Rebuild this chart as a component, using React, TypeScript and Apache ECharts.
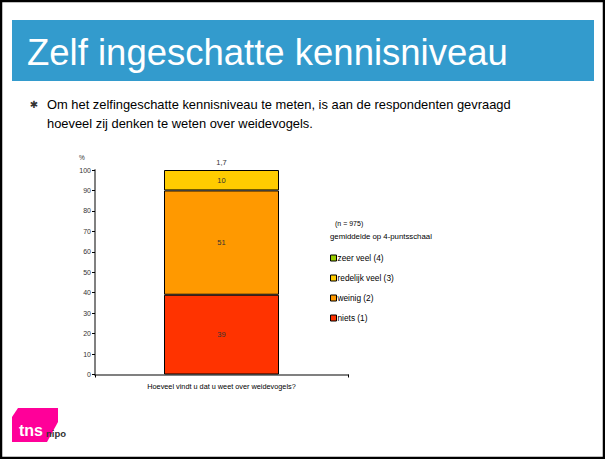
import React, { useEffect, useRef } from "react";
import * as echarts from "echarts";

const categories = ["Hoeveel vindt u dat u weet over weidevogels?"];
const seriesNames = ["niets (1)", "weinig (2)", "redelijk veel (3)", "zeer veel (4)"];
const niets = [39];
const weinig = [51];
const redelijkVeel = [10];
const zeerVeel = [1.7];
const legendOrder = ["zeer veel (4)", "redelijk veel (3)", "weinig (2)", "niets (1)"];
const colors: Record<string, string> = {
  "niets (1)": "#FF3300",
  "weinig (2)": "#FF9900",
  "redelijk veel (3)": "#FFCC00",
  "zeer veel (4)": "#99CC00",
};

const FONT = "Liberation Sans, Arial, sans-serif";

const fmt = (v: number) => String(v).replace(".", ",");

export default function App() {
  const ref = useRef<HTMLDivElement>(null);
  useEffect(() => {
    if (!ref.current) return;
    const chart = echarts.init(ref.current, undefined, { renderer: "svg" });
    const values = [niets, weinig, redelijkVeel, zeerVeel];
    const series: any[] = seriesNames.map((name, i) => {
      const isTop = i === 3;
      return {
        name,
        type: "bar",
        stack: "total",
        barWidth: 115,
        clip: false,
        data: values[i],
        itemStyle: isTop
          ? { color: "rgba(0,0,0,0)", borderWidth: 0 }
          : { color: colors[name], borderColor: "#000", borderWidth: 1 },
        label: {
          show: true,
          position: isTop ? "top" : "inside",
          distance: 0,
          fontSize: 7.5,
          fontFamily: FONT,
          color: "#333",
          formatter: (p: any) => fmt(p.value),
        },
      };
    });

    chart.setOption({
      animation: false,
      backgroundColor: "#fff",
      textStyle: { fontFamily: FONT },
      grid: { left: 95, right: 257, top: 170, bottom: 84.5, containLabel: false },
      xAxis: {
        type: "category",
        data: categories,
        axisLine: { lineStyle: { color: "#808080", width: 2 } },
        axisTick: { show: true, length: 3, lineStyle: { color: "#000" } },
        axisLabel: { fontSize: 7.3, color: "#000", margin: 8, fontFamily: FONT },
      },
      yAxis: {
        type: "value",
        min: 0,
        max: 100,
        interval: 10,
        axisLine: { show: true, lineStyle: { color: "#808080", width: 2 } },
        axisTick: { show: true, length: 3, lineStyle: { color: "#000" } },
        axisLabel: { fontSize: 7, color: "#333", margin: 4, fontFamily: FONT },
        splitLine: { show: false },
      },
      legend: {
        orient: "vertical",
        left: 325,
        top: 248,
        itemWidth: 6,
        itemHeight: 6,
        itemGap: 10,
        icon: "rect",
        textStyle: {
          fontSize: 8.3,
          color: "#000",
          lineHeight: 10,
          fontFamily: FONT,
          padding: [0, 0, 0, -4],
        },
        data: legendOrder.map((n) => ({
          name: n,
          itemStyle: { color: colors[n], borderColor: "#000", borderWidth: 1, opacity: 1 },
        })),
      },
      graphic: [
        {
          type: "rect",
          shape: { x: 1, y: 1, width: 603, height: 457 },
          style: { fill: "none", stroke: "#000", lineWidth: 2.5 },
          silent: true,
        },
        {
          type: "rect",
          shape: { x: 12, y: 20, width: 582, height: 61 },
          style: { fill: "#339BCD" },
          silent: true,
        },
        {
          type: "text",
          x: 27,
          y: 52,
          style: {
            text: "Zelf ingeschatte kennisniveau",
            fill: "#fff",
            font: `36.5px ${FONT}`,
            textVerticalAlign: "middle",
          },
          silent: true,
        },
        {
          type: "text",
          x: 34,
          y: 104,
          style: {
            text: "✱",
            fill: "#333",
            font: "10px DejaVu Sans",
            textAlign: "center",
            textVerticalAlign: "middle",
          },
          silent: true,
        },
        {
          type: "text",
          x: 47,
          y: 104,
          style: {
            text: "Om het zelfingeschatte kennisniveau te meten, is aan de respondenten gevraagd",
            fill: "#000",
            font: `12.9px ${FONT}`,
            textVerticalAlign: "middle",
          },
          silent: true,
        },
        {
          type: "text",
          x: 47,
          y: 123,
          style: {
            text: "hoeveel zij denken te weten over weidevogels.",
            fill: "#000",
            font: `12.9px ${FONT}`,
            textVerticalAlign: "middle",
          },
          silent: true,
        },
        {
          type: "text",
          x: 82,
          y: 157,
          style: { text: "%", fill: "#333", font: `6.5px ${FONT}`, textAlign: "center", textVerticalAlign: "middle" },
          silent: true,
        },
        {
          type: "text",
          x: 335,
          y: 223,
          style: { text: "(n = 975)", fill: "#000", font: `7px ${FONT}`, textVerticalAlign: "middle" },
          silent: true,
        },
        {
          type: "text",
          x: 330,
          y: 236,
          style: { text: "gemiddelde op 4-puntsschaal", fill: "#000", font: `7.8px ${FONT}`, textVerticalAlign: "middle" },
          silent: true,
        },
        {
          type: "polygon",
          shape: {
            points: [
              [18, 408],
              [58, 408],
              [58, 422],
              [47, 442],
              [12, 442],
              [12, 417],
            ],
          },
          style: { fill: "#FF0099" },
          silent: true,
        },
        {
          type: "text",
          x: 19,
          y: 430,
          style: { text: "tns", fill: "#fff", font: `bold 16px ${FONT}`, textVerticalAlign: "middle" },
          silent: true,
        },
        {
          type: "text",
          x: 46,
          y: 433,
          style: { text: "nipo", fill: "#333", font: `bold 9.5px ${FONT}`, textVerticalAlign: "middle" },
          silent: true,
        },
      ],
      series,
    });
    return () => chart.dispose();
  }, []);
  return (
    <div
      ref={ref}
      style={{ position: "fixed", left: 0, top: 0, width: 605, height: 459, background: "#fff" }}
    />
  );
}
